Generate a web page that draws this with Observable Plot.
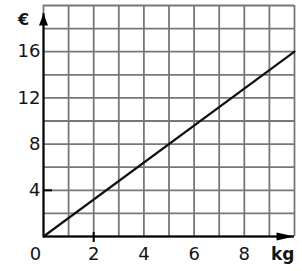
<!DOCTYPE html>
<html>
<head>
<meta charset="utf-8">
<script src="https://cdn.jsdelivr.net/npm/d3@7"></script>
<script src="https://cdn.jsdelivr.net/npm/@observablehq/plot@0.6"></script>
<style>
  html, body { margin: 0; padding: 0; background: #fff; }
  #chart svg { display: block; }
</style>
</head>
<body>
<div id="chart"></div>
<script>
// --- data ---
const gridX = [0, 1, 2, 3, 4, 5, 6, 7, 8, 9, 10];
const gridY = [0, 2, 4, 6, 8, 10, 12, 14, 16, 18, 20];
const xTickLabels = [2, 4, 6, 8];
const yTickLabels = [4, 8, 12, 16];
const markedX = [2];
const markedY = [4];
const weightKg = [0, 10];
const priceEur = [0, 16];
const originLabel = ["0"];
const xUnit = ["kg"];
const yUnit = ["€"];
const yAxisTop = [19.3];
const xAxisEnd = [10];

const font = "DejaVu Sans, Verdana, sans-serif";

function head(len, half) {
  return {
    draw(ctx) {
      ctx.moveTo(0, 0);
      ctx.lineTo(half, len);
      ctx.lineTo(-half, len);
      ctx.closePath();
    }
  };
}

const line = weightKg.map((w, i) => ({w, p: priceEur[i]}));

const chart = Plot.plot({
  width: 302,
  height: 271,
  marginLeft: 43,
  marginRight: 8,
  marginTop: 5,
  marginBottom: 35,
  x: {domain: [0, 10], axis: null},
  y: {domain: [0, 20], axis: null},
  style: {fontFamily: font, background: "#fff"},
  marks: [
    Plot.ruleX(gridX, {x: d => d, y1: 0, y2: 20, stroke: "#777", strokeWidth: 1.8}),
    Plot.ruleY(gridY, {y: d => d, x1: 0, x2: 10, stroke: "#777", strokeWidth: 1.8}),
    Plot.ruleY([0], {x1: 0, x2: xAxisEnd[0], stroke: "#000", strokeWidth: 2}),
    Plot.ruleX([0], {y1: 0, y2: yAxisTop[0], stroke: "#000", strokeWidth: 2}),
    Plot.dot(yAxisTop, {x: 0, y: d => d, symbol: head(12, 4.5), fill: "#000", stroke: null, r: 5}),
    Plot.dot(xAxisEnd, {x: d => d, y: 0, symbol: head(18, 4), rotate: 90, fill: "#000", stroke: null, r: 5}),
    Plot.ruleX(markedX, {x: d => d, y1: -0.52, y2: 0.35, stroke: "#000", strokeWidth: 2}),
    Plot.ruleY(markedY, {y: d => d, x1: 0, x2: 0.36, stroke: "#000", strokeWidth: 2}),
    Plot.line(line, {x: "w", y: "p", stroke: "#111", strokeWidth: 2.2}),
    Plot.text(yTickLabels, {x: 0, y: d => d, text: d => String(d), textAnchor: "end", dx: -3, fontSize: 18, fill: "#141414"}),
    Plot.text(xTickLabels, {x: d => d, y: 0, text: d => String(d), dy: 18, fontSize: 18, fill: "#141414"}),
    Plot.text(originLabel, {x: 0, y: 0, text: d => d, dx: -8, dy: 18, fontSize: 18, fill: "#141414"}),
    Plot.text(xUnit, {x: 10, y: 0, text: d => d, textAnchor: "end", dy: 18, fontSize: 17, fontWeight: "bold", fill: "#141414"}),
    Plot.text(yUnit, {x: 0, y: 20, text: d => d, dx: -20, dy: 14, fontSize: 16, fontWeight: "bold", fill: "#141414"})
  ]
});

document.getElementById("chart").appendChild(chart);
</script>
</body>
</html>
